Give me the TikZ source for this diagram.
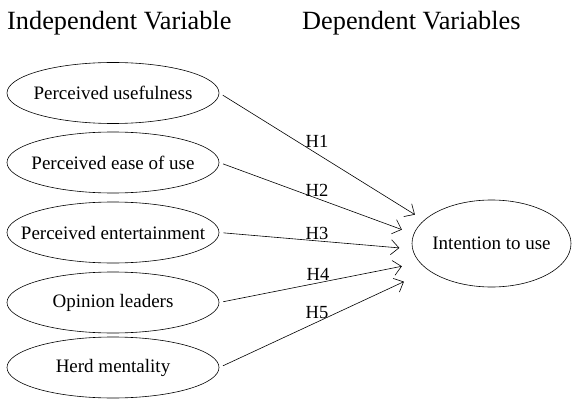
\documentclass[tikz,border=0pt]{standalone}
\usepackage{fontspec}
\setmainfont{Liberation Serif}
\usetikzlibrary{shapes.geometric,arrows.meta}
\tikzset{ARROW/.style={line width=0.6pt, -{Straight Barb[length=8pt,width=15pt]}, shorten <=4pt}}
\tikzset{VAR/.style={ellipse, draw, line width=0.6pt, minimum width=212pt, minimum height=61pt, inner sep=0pt, font=\fontsize{19}{22}\selectfont}}
\tikzset{TITLE/.style={anchor=base west, inner sep=0pt, font=\fontsize{26.3}{30}\selectfont}}
\tikzset{HYP/.style={inner sep=0pt, font=\fontsize{18.5}{22}\selectfont}}
% keep the ellipse size fixed, whatever the text width
\newcommand{\vartext}[1]{\makebox[0pt]{#1}}

\begin{document}
\begin{tikzpicture}[x=1pt,y=-1pt]
    \useasboundingbox (0,0) rectangle (572,406);

    \node[TITLE] (t_indep) at (7,30) {Independent Variable};
    \node[TITLE] (t_dep) at (302,30) {Dependent Variables};

    \node[VAR] (n_useful) at (113,93) {\vartext{Perceived usefulness}};
    \node[VAR] (n_ease) at (113,162.5) {\vartext{Perceived ease of use}};
    \node[VAR] (n_enter) at (113,232.5) {\vartext{Perceived entertainment}};
    \node[VAR] (n_opinion) at (113,302.5) {\vartext{Opinion leaders}};
    \node[VAR] (n_herd) at (113,367.5) {\vartext{Herd mentality}};
    \node[VAR, minimum width=159pt, minimum height=87pt] (n_intent) at (491.5,243.5) {\vartext{Intention to use}};

    \draw[ARROW, shorten >=10.6pt] (n_useful.east) -- (n_intent.161.3);
    \draw[ARROW, shorten >=12.5pt] (n_ease.east) -- (n_intent.173.3);
    \draw[ARROW, shorten >=13pt] (n_enter.east) -- (n_intent.184.8);
    \draw[ARROW, shorten >=18.3pt] (n_opinion.east) -- (n_intent.195.8);
    \draw[ARROW, shorten >=27pt] (n_herd.east) -- (n_intent.203.5);

    \node[HYP] (l_h1) at (317,141) {H1};
    \node[HYP] (l_h2) at (317,190) {H2};
    \node[HYP] (l_h3) at (317,233) {H3};
    \node[HYP] (l_h4) at (318,274) {H4};
    \node[HYP] (l_h5) at (317,313) {H5};
\end{tikzpicture}
\end{document}
